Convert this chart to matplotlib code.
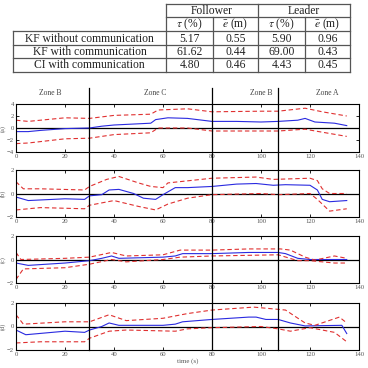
import matplotlib
matplotlib.use('Agg')
import matplotlib.pyplot as plt
import matplotlib.transforms as mtransforms
from matplotlib.lines import Line2D
import numpy as np

plt.rcParams['font.family'] = ['Liberation Serif', 'DejaVu Serif']
plt.rcParams['mathtext.fontset'] = 'stix'

# Table data
row_labels = ['KF without communication', 'KF with communication', 'CI with communication']
group_labels = ['Follower', 'Leader']
sub_labels = [r'$\tau$ (%)', r'$\bar{e}$ (m)', r'$\tau$ (%)', r'$\bar{e}$ (m)']
table_vals = [['5.17', '0.55', '5.90', '0.96'],
              ['61.62', '0.44', '69.00', '0.43'],
              ['4.80', '0.46', '4.43', '0.45']]

# Zones
zone_names = ['Zone B', 'Zone C', 'Zone B', 'Zone A']
zone_bounds = [30, 80, 107]
zone_centers = [14, 57, 100, 127]

# Series (a)
ta = [0, 5, 10, 20, 30, 35, 40, 50, 55, 57, 62, 70, 80, 90, 100, 107, 115, 118, 122, 130, 135]
ma = [-0.6, -0.6, -0.4, -0.1, 0.0, 0.3, 0.5, 0.7, 0.8, 1.4, 1.7, 1.6, 1.1, 1.1, 1.0, 1.1, 1.3, 1.6, 1.0, 0.8, 0.4]
tua = [0, 5, 20, 30, 40, 55, 58, 70, 80, 100, 107, 118, 125, 135]
ua = [1.3, 1.1, 1.7, 1.6, 2.1, 2.3, 3.0, 3.2, 2.7, 2.8, 2.8, 3.3, 2.7, 2.0]
la = [-2.6, -2.5, -1.8, -1.7, -1.1, -0.8, 0.0, 0.0, -0.5, -0.5, -0.5, -0.2, -0.7, -1.4]

# Series (b)
tb = [0, 5, 20, 28, 30, 35, 38, 42, 48, 52, 57, 60, 65, 70, 80, 90, 98, 105, 110, 120, 123, 125, 128, 135]
mb = [-0.3, -0.6, -0.45, -0.5, -0.2, -0.1, 0.3, 0.35, 0.0, -0.4, -0.5, -0.1, 0.5, 0.5, 0.6, 0.8, 0.85, 0.7, 0.75, 0.7, 0.3, -0.5, -0.7, -0.6]
tub = [0, 3, 10, 28, 30, 37, 42, 50, 55, 60, 62, 80, 98, 105, 120, 123, 125, 128, 135]
ub = [1.0, 0.4, 0.4, 0.3, 0.6, 1.2, 1.45, 0.9, 0.6, 0.5, 0.9, 1.3, 1.4, 1.2, 1.3, 1.1, 0.4, 0.0, 0.0]
tlb = [0, 10, 28, 30, 40, 50, 57, 62, 70, 80, 100, 107, 120, 123, 128, 135]
lb = [-1.4, -1.2, -1.3, -1.0, -0.6, -1.1, -1.4, -0.9, -0.4, -0.1, 0.0, -0.1, 0.0, -0.5, -1.5, -1.3]

# Series (c)
tc = [0, 5, 20, 30, 35, 39, 42, 60, 65, 68, 80, 95, 107, 110, 115, 120, 135]
mc = [-0.3, -0.5, -0.3, -0.1, 0.1, 0.3, 0.1, 0.2, 0.3, 0.5, 0.5, 0.6, 0.6, 0.5, 0.1, 0.0, 0.0]
tuc = [0, 2, 20, 30, 39, 45, 60, 67, 80, 95, 108, 112, 118, 122, 130, 135]
uc = [0.6, 0.0, 0.1, 0.2, 0.6, 0.3, 0.4, 0.8, 0.8, 0.9, 0.9, 0.8, 0.2, -0.05, 0.3, 0.1]
tlc = [0, 3, 20, 30, 39, 45, 60, 67, 80, 107, 115, 120, 130, 135]
lc = [-1.7, -0.8, -0.7, -0.4, 0.0, -0.2, 0.0, 0.2, 0.3, 0.4, -0.1, -0.1, -0.3, -0.3]

# Series (d)
td = [0, 4, 20, 28, 30, 35, 38, 42, 60, 65, 68, 80, 95, 98, 102, 107, 112, 118, 133, 135]
md = [-0.3, -0.7, -0.4, -0.5, -0.3, 0.0, 0.3, 0.1, 0.1, 0.2, 0.4, 0.6, 0.8, 0.8, 0.6, 0.6, 0.3, 0.05, 0.1, -0.6]
tud = [0, 3, 20, 30, 38, 45, 60, 70, 80, 97, 105, 110, 118, 122, 132, 135]
ud = [1.0, 0.2, 0.4, 0.4, 1.0, 0.5, 0.7, 1.1, 1.4, 1.65, 1.5, 1.4, 0.3, 0.1, 0.8, 0.3]
tld = [0, 10, 28, 30, 38, 45, 65, 70, 80, 100, 107, 112, 120, 130, 135]
ld = [-1.4, -1.3, -1.3, -1.0, -0.4, -0.3, -0.4, -0.2, -0.1, 0.0, -0.2, -0.4, -0.1, -0.5, -1.3]

panels = [
    ('(a)', ta, ma, tua, ua, tua, la, (-4, 4), [-4, -2, 0, 2, 4]),
    ('(b)', tb, mb, tub, ub, tlb, lb, (-2, 2), [-2, 0, 2]),
    ('(c)', tc, mc, tuc, uc, tlc, lc, (-2, 2), [-2, 0, 2]),
    ('(d)', td, md, tud, ud, tld, ld, (-2, 2), [-2, 0, 2]),
]

W = H = 368
fig = plt.figure(figsize=(3.68, 3.68), dpi=100)

# overlay axes in pixel coordinates for the table
ov = fig.add_axes([0, 0, 1, 1])
ov.set_xlim(0, W)
ov.set_ylim(H, 0)
ov.axis('off')

cols = [13, 166, 213, 258, 305, 350]
rows = [4, 17, 31, 45, 58, 72]
lw = 0.9
tcol = '#555'
# horizontal lines
ov.plot([cols[1], cols[5]], [rows[0], rows[0]], color=tcol, lw=lw)
ov.plot([cols[1], cols[5]], [rows[1], rows[1]], color=tcol, lw=lw)
for r in rows[2:]:
    ov.plot([cols[0], cols[5]], [r, r], color=tcol, lw=lw)
# vertical lines
ov.plot([cols[0], cols[0]], [rows[2], rows[5]], color=tcol, lw=lw)
ov.plot([cols[1], cols[1]], [rows[0], rows[5]], color=tcol, lw=lw)
ov.plot([cols[2], cols[2]], [rows[1], rows[5]], color=tcol, lw=lw)
ov.plot([cols[3], cols[3]], [rows[0], rows[5]], color=tcol, lw=lw)
ov.plot([cols[4], cols[4]], [rows[1], rows[5]], color=tcol, lw=lw)
ov.plot([cols[5], cols[5]], [rows[0], rows[5]], color=tcol, lw=lw)

fs = 8.4
for i, g in enumerate(group_labels):
    ov.text((cols[1 + 2 * i] + cols[3 + 2 * i]) / 2, (rows[0] + rows[1]) / 2 + 0.5, g,
            ha='center', va='center', fontsize=fs, color='#222')
for j, s in enumerate(sub_labels):
    ov.text((cols[1 + j] + cols[2 + j]) / 2, (rows[1] + rows[2]) / 2 + 0.5, s,
            ha='center', va='center', fontsize=fs, color='#222')
for i, lab in enumerate(row_labels):
    yc = (rows[2 + i] + rows[3 + i]) / 2 + 0.5
    ov.text((cols[0] + cols[1]) / 2, yc, lab, ha='center', va='center', fontsize=fs, color='#222')
    for j, v in enumerate(table_vals[i]):
        ov.text((cols[1 + j] + cols[2 + j]) / 2, yc, v, ha='center', va='center',
                fontsize=fs, color='#222')

# subplot axes
left, right = 16, 359
tops = [104, 170, 236, 303]
bots = [152, 217, 283, 350]
axes = []
for k, (lab, t, m, tu, u, tl, l, ylim, yt) in enumerate(panels):
    ax = fig.add_axes([left / W, 1 - bots[k] / H, (right - left) / W, (bots[k] - tops[k]) / H])
    ax.axhline(0, color='black', lw=0.9)
    ax.plot(t, m, color='#2a2ae0', lw=0.8)
    ax.plot(tu, u, color='#e03030', lw=0.8, dashes=(4, 2.5))
    ax.plot(tl, l, color='#e03030', lw=0.8, dashes=(4, 2.5))
    ax.set_xlim(0, 140)
    ax.set_ylim(*ylim)
    ax.set_xticks(range(0, 141, 20))
    ax.set_yticks(yt)
    ax.tick_params(direction='in', length=2, width=0.6, labelsize=4.8, colors='#555',
                   top=True, right=True, pad=1.5)
    ax.tick_params(axis='both', which='both', color='black')
    for sp in ax.spines.values():
        sp.set_linewidth(0.8)
    ax.set_ylabel(lab, fontsize=4.5, color='#555', labelpad=1)
    ax.patch.set_alpha(0)
    axes.append(ax)
axes[-1].set_xlabel('time (s)', fontsize=5, color='#555', labelpad=1)

# zone boundaries spanning all panels
trans = mtransforms.blended_transform_factory(axes[-1].transData, fig.transFigure)
for xb in zone_bounds:
    fig.add_artist(Line2D([xb, xb], [1 - 350 / H, 1 - 88 / H], transform=trans,
                          color='black', lw=0.9))
for xc, zn in zip(zone_centers, zone_names):
    fig.text(xc, 1 - 93 / H, zn, transform=trans, ha='center', va='center',
             fontsize=5.5, color='#444')

fig.savefig('out.png', dpi=100)
